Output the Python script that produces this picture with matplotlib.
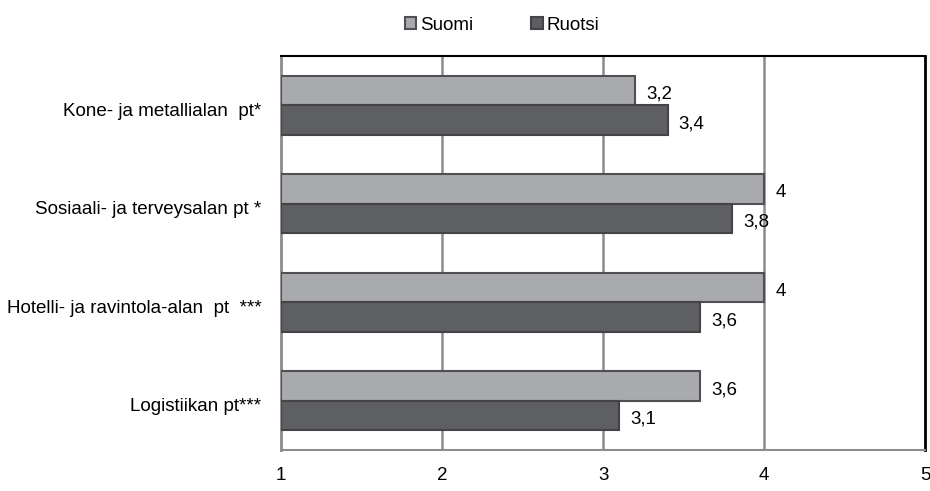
import numpy as np
import matplotlib.pyplot as plt
from matplotlib.transforms import ScaledTranslation

plt.rcParams['font.family'] = ['Liberation Sans', 'DejaVu Sans']

categories = ["Kone- ja metallialan  pt*", "Sosiaali- ja terveysalan pt *",
              "Hotelli- ja ravintola-alan  pt  ***", "Logistiikan pt***"]
suomi = [3.2, 4.0, 4.0, 3.6]
ruotsi = [3.4, 3.8, 3.6, 3.1]
series_names = ["Suomi", "Ruotsi"]

FS = 13.5


def fmt(v):
    return ("%g" % v).replace(".", ",")


fig = plt.figure(figsize=(9.3, 4.91), dpi=100)
ax = fig.add_axes([0.302, 0.0835, 0.693, 0.8025])

y = np.arange(len(categories))
h = 0.30
b1 = ax.barh(y - h / 2, [v - 1 for v in suomi], height=h, left=1,
             color="#a9aaad", edgecolor="#505053", linewidth=1.5, label=series_names[0], zorder=3)
b2 = ax.barh(y + h / 2, [v - 1 for v in ruotsi], height=h, left=1,
             color="#5e5f63", edgecolor="#444447", linewidth=1.5, label=series_names[1], zorder=3)

for yy, v in zip(y - h / 2, suomi):
    ax.annotate(fmt(v), (v, yy + 0.04), xytext=(8, 0), textcoords="offset points",
                va="center", ha="left", fontsize=FS)
for yy, v in zip(y + h / 2, ruotsi):
    ax.annotate(fmt(v), (v, yy + 0.04), xytext=(8, 0), textcoords="offset points",
                va="center", ha="left", fontsize=FS)

ax.set_xlim(1, 5)
ax.set_ylim(len(categories) - 0.5, -0.5)
ax.set_xticks([1, 2, 3, 4, 5])
ax.set_yticks(y)
ax.set_yticklabels(categories)
ax.tick_params(axis="x", length=0, pad=12, labelsize=FS)
ax.tick_params(axis="y", length=0, pad=14, labelsize=FS)

# category labels sit a little below the band centre in the original
shift = ScaledTranslation(0, -3 / 72, fig.dpi_scale_trans)
for lab in ax.get_yticklabels():
    lab.set_transform(lab.get_transform() + shift)

for xv in [2, 3, 4]:
    ax.axvline(xv, color="#8c8c8e", linewidth=1.8, zorder=1)

ax.spines["left"].set_color("#8c8c8e")
ax.spines["left"].set_linewidth(2)
ax.spines["bottom"].set_color("#8c8c8e")
ax.spines["bottom"].set_linewidth(1.5)
ax.spines["top"].set_color("black")
ax.spines["top"].set_linewidth(1.5)
ax.spines["right"].set_color("black")
ax.spines["right"].set_linewidth(2)

fig.legend(handles=[b1, b2], loc="upper center", bbox_to_anchor=(0.54, 1.0),
           ncol=2, frameon=False, fontsize=FS, handlelength=0.6, handleheight=0.6,
           handletextpad=0.2, columnspacing=3.1)

fig.savefig("out.png", dpi=100)
